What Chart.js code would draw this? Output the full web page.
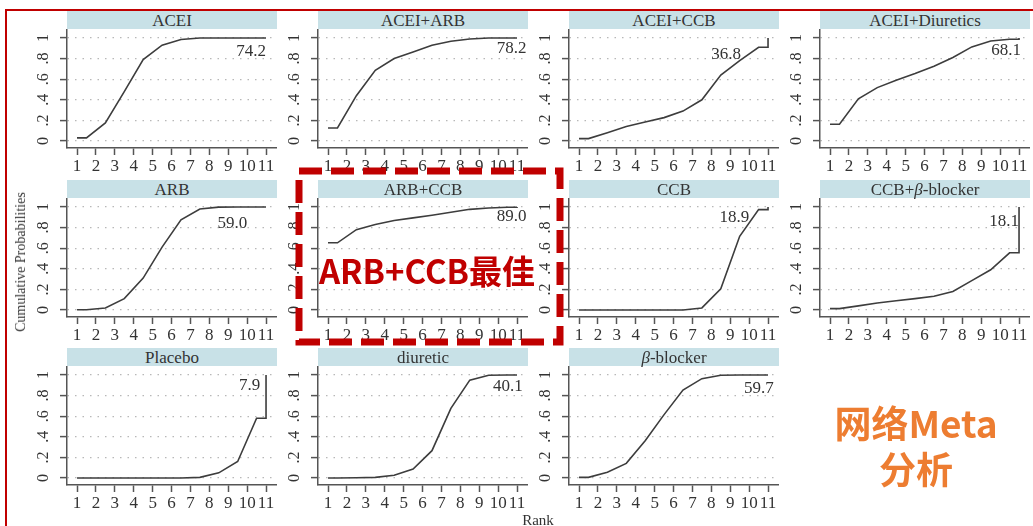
<!DOCTYPE html>
<html>
<head>
<meta charset="utf-8">
<script src="https://cdn.jsdelivr.net/npm/chart.js@4.4.0/dist/chart.umd.min.js"></script>
<style>
  body { margin: 0; background: #fff; }
  #page { position: relative; width: 1033px; height: 526px; overflow: hidden; background: #fff;
    font-family: "Liberation Serif", "DejaVu Serif", serif; }
  .strip { position: absolute; height: 18px; width: 210px; background: #c8e1e7; color: #333;
    font-size: 17px; line-height: 19px; text-align: center; }
  .panel { position: absolute; width: 260px; height: 149px; }
  .redline { position: absolute; background: #c00000; }
  .note { position: absolute; font-family: "Noto Sans CJK SC", "Noto Sans", sans-serif; font-weight: 700;
    white-space: nowrap; text-align: center; transform: translate(-50%, -50%); }
</style>
</head>
<body>
<div id="page">
  <div class="redline" style="left:5px;top:9px;width:1028px;height:2px"></div>
  <div class="redline" style="left:5px;top:9px;width:2px;height:517px"></div>
</div>
<script>
// treatments, in panel order
const treatments = ["ACEI", "ACEI+ARB", "ACEI+CCB", "ACEI+Diuretics", "ARB", "ARB+CCB",
  "CCB", "CCB+<i>β</i>-blocker", "Placebo", "diuretic", "<i>β</i>-blocker"];
const ranks = [1, 2, 3, 4, 5, 6, 7, 8, 9, 10, 11];
const yTicks = [0, 0.2, 0.4, 0.6, 0.8, 1];
const yTickLabels = ["0", ".2", ".4", ".6", ".8", "1"];
const sucra = ["74.2", "78.2", "36.8", "68.1", "59.0", "89.0", "18.9", "18.1", "7.9", "40.1", "59.7"];

// cumulative probability of being ranked <= k
const cumACEI = [0.03, 0.175, 0.48, 0.79, 0.93, 0.985, 1, 1, 1, 1, 1];
const cumACEIARB = [0.126, 0.44, 0.686, 0.80, 0.864, 0.93, 0.968, 0.99, 1, 1, 1];
const cumACEICCB = [0.023, 0.08, 0.14, 0.185, 0.227, 0.29, 0.40, 0.64, 0.78, 0.91, 1];
const cumACEIDiu = [0.162, 0.41, 0.518, 0.59, 0.654, 0.725, 0.81, 0.913, 0.97, 0.987, 1];
const cumARB = [0.002, 0.02, 0.11, 0.31, 0.61, 0.875, 0.98, 0.998, 1, 1, 1];
const cumARBCCB = [0.652, 0.78, 0.83, 0.868, 0.894, 0.92, 0.948, 0.977, 0.99, 0.997, 1];
const cumCCB = [0, 0, 0, 0, 0, 0, 0.02, 0.205, 0.715, 0.974, 1];
const cumCCBBeta = [0.013, 0.04, 0.068, 0.09, 0.11, 0.133, 0.18, 0.285, 0.39, 0.555, 1];
const cumPlacebo = [0, 0, 0, 0, 0, 0, 0.006, 0.05, 0.16, 0.58, 1];
const cumDiuretic = [0, 0.003, 0.006, 0.026, 0.087, 0.265, 0.676, 0.95, 0.997, 1, 1];
const cumBeta = [0.006, 0.055, 0.142, 0.362, 0.615, 0.854, 0.964, 0.997, 1, 1, 1];

const curves = [cumACEI, cumACEIARB, cumACEICCB, cumACEIDiu, cumARB, cumARBCCB,
  cumCCB, cumCCBBeta, cumPlacebo, cumDiuretic, cumBeta];

// where each SUCRA label sits (rank, probability), right aligned
const sucraX = [11, 11.5, 9.57, 11.1, 10.0, 11.5, 10.0, 11.0, 10.7, 11.3, 11.3];
const sucraY = [0.864, 0.893, 0.835, 0.874, 0.843, 0.91, 0.90, 0.86, 0.90, 0.89, 0.87];

// panel grid
const colX = [67, 318, 569, 820];
const stripTop = [11, 180, 348];

// stata-like step path: (1,c1), (k+.5,ck) ..., (11,c10), (11,c11)
const toPoints = (c) => {
  let pts = [{ x: 1, y: c[0] }];
  for (let k = 1; k <= 10; k++) pts.push({ x: k + 0.5, y: c[k - 1] });
  pts.push({ x: 11, y: c[9] });
  pts.push({ x: 11, y: c[10] });
  return pts;
};

const serif = '"Liberation Serif", "DejaVu Serif", serif';

const labelsPlugin = {
  id: "panelLabels",
  afterDraw(chart) {
    const { ctx, chartArea, scales } = chart;
    const i = chart.options.plugins.panelLabels.index;
    ctx.save();
    ctx.fillStyle = "#333";
    ctx.font = "16px " + serif;
    ctx.textAlign = "center";
    ctx.textBaseline = "middle";
    yTicks.forEach((v, j) => {
      ctx.save();
      ctx.translate(chartArea.left - 23, scales.y.getPixelForValue(v));
      ctx.rotate(-Math.PI / 2);
      ctx.fillText(yTickLabels[j], 0, 0);
      ctx.restore();
    });
    ctx.textAlign = "right";
    ctx.font = "17px " + serif;
    ctx.fillText(sucra[i], scales.x.getPixelForValue(sucraX[i]), scales.y.getPixelForValue(sucraY[i]));
    ctx.restore();
  },
};

const page = document.getElementById("page");

treatments.forEach((name, i) => {
  let r = Math.floor(i / 4), c = i % 4;
  let strip = document.createElement("div");
  strip.className = "strip";
  strip.style.left = colX[c] + "px";
  strip.style.top = stripTop[r] + "px";
  strip.innerHTML = name;
  page.appendChild(strip);

  let box = document.createElement("div");
  box.className = "panel";
  box.style.left = colX[c] - 50 + "px";
  box.style.top = stripTop[r] + 18 + "px";
  let cv = document.createElement("canvas");
  cv.width = 260;
  cv.height = 149;
  box.appendChild(cv);
  page.appendChild(box);

  new Chart(cv, {
    type: "line",
    data: {
      datasets: [{
        data: toPoints(curves[i]),
        borderColor: "#3d3d3d",
        borderWidth: 1.6,
        pointRadius: 0,
        tension: 0,
        fill: false,
      }],
    },
    options: {
      responsive: false,
      animation: false,
      events: [],
      layout: { padding: 0 },
      plugins: { legend: { display: false }, tooltip: { enabled: false }, panelLabels: { index: i } },
      scales: {
        x: {
          type: "linear", min: 0.47, max: 11.58,
          afterBuildTicks: (s) => { s.ticks = ranks.map((v) => ({ value: v })); },
          afterFit: (s) => { s.height = 30; },
          grid: { drawOnChartArea: false, tickLength: 7, tickColor: "#555", tickWidth: 1.5 },
          border: { color: "#555", width: 1.5 },
          ticks: { autoSkip: false, maxRotation: 0, padding: 1, color: "#333",
            font: { family: serif, size: 17 }, callback: (v) => String(v) },
        },
        y: {
          min: -0.068, max: 1.087,
          afterBuildTicks: (s) => { s.ticks = yTicks.map((v) => ({ value: v })); },
          afterFit: (s) => { s.width = 50; },
          grid: { color: "#b8b8b8", lineWidth: 1.2, tickLength: 7, tickColor: "#555", tickWidth: 1.5, tickBorderDash: [] },
          border: { color: "#555", width: 1.5, dash: [1.5, 6] },
          ticks: { display: false },
        },
      },
    },
    plugins: [labelsPlugin],
  });
});

// axis titles
let yTitle = document.createElement("div");
yTitle.textContent = "Cumulative Probabilities";
yTitle.style.cssText = "position:absolute;left:21px;top:262px;font-size:14px;color:#333;white-space:nowrap;transform:translate(-50%,-50%) rotate(-90deg);";
page.appendChild(yTitle);

let xTitle = document.createElement("div");
xTitle.textContent = "Rank";
xTitle.style.cssText = "position:absolute;left:538px;top:520px;font-size:15px;color:#333;transform:translate(-50%,-50%);";
page.appendChild(xTitle);

// red dashed highlight box
page.insertAdjacentHTML("beforeend",
  '<svg style="position:absolute;left:0;top:0" width="1033" height="526">' +
  '<rect x="299" y="171" width="261" height="171" fill="none" stroke="#c00000" stroke-width="7" stroke-dasharray="23 9"/></svg>');

let best = document.createElement("div");
best.className = "note";
best.textContent = "ARB+CCB最佳";
best.style.cssText += "left:427px;top:270px;font-size:33px;color:#c00000;";
page.appendChild(best);

let meta = document.createElement("div");
meta.className = "note";
meta.innerHTML = "网络Meta<br>分析";
meta.style.cssText += "left:916px;top:445px;font-size:37px;line-height:46px;color:#ed7d31;";
page.appendChild(meta);
</script>
</body>
</html>
